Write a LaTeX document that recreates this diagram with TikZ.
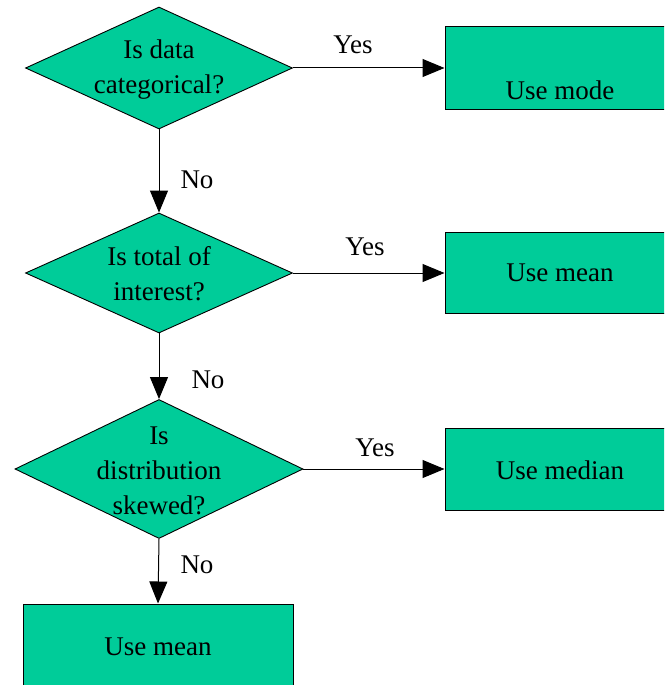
\documentclass[tikz,border=0pt]{standalone}
\usepackage{fontspec}
\setmainfont{Liberation Serif}
\usetikzlibrary{shapes.geometric,arrows.meta}
\definecolor{flowgreen}{RGB}{0,204,153}
\tikzset{
  dia/.style={diamond, draw=black, fill=flowgreen, line width=0.9pt, inner sep=0pt},
  box/.style={rectangle, draw=black, fill=flowgreen, line width=1pt, inner sep=0pt, align=center},
  txt/.style={align=center, inner sep=0pt, font=\fontsize{27}{35}\selectfont},
  lbl/.style={inner sep=0pt, font=\fontsize{27}{35}\selectfont},
  arr/.style={line width=1pt, -{Triangle[length=22pt,width=18pt]}}
}
\begin{document}
\begin{tikzpicture}[x=1pt,y=-1pt]
\useasboundingbox (0,0) rectangle (664,685);
\clip (0,0) rectangle (664,685);
% decisions
\node[dia, minimum width=267pt, minimum height=122pt] (d1) at (159,68) {};
\node[txt] (t1) at (159,70) {Is data\\categorical?};
\node[dia, minimum width=267pt, minimum height=120pt] (d2) at (159,273) {};
\node[txt] (t2) at (159,274) {Is total of\\interest?};
\node[dia, minimum width=288pt, minimum height=139pt] (d3) at (159,469) {};
\node[txt] (t3) at (159,471) {Is\\distribution\\skewed?};
% outcomes (right ends run past the picture's edge)
\node[box, minimum width=250pt, minimum height=82pt] (b1) at (570,68) {};
\node[txt] (u1) at (560,90) {Use mode};
\node[box, minimum width=250pt, minimum height=81pt] (b2) at (570,273) {};
\node[txt] (u2) at (560,273) {Use mean};
\node[box, minimum width=250pt, minimum height=82pt] (b3) at (570,469) {};
\node[txt] (u3) at (560,470) {Use median};
\node[box, minimum width=270pt, minimum height=90pt] (b4) at (158,649) {};
\node[txt] (u4) at (158,647) {Use mean};
% connectors
\draw[arr] (d1.east) -- (b1.west);
\draw[arr] (d2.east) -- (b2.west);
\draw[arr] (d3.east) -- (b3.west);
\draw[arr] (d1.south) -- (d2.north);
\draw[arr] (d2.south) -- (d3.north);
\draw[arr] (d3.south) -- (b4.north);
% labels
\node[lbl] at (353,45) {Yes};
\node[lbl] at (365,247) {Yes};
\node[lbl] at (375,448) {Yes};
\node[lbl] at (197,180) {No};
\node[lbl] at (208,380) {No};
\node[lbl] at (197,565) {No};
\end{tikzpicture}
\end{document}
